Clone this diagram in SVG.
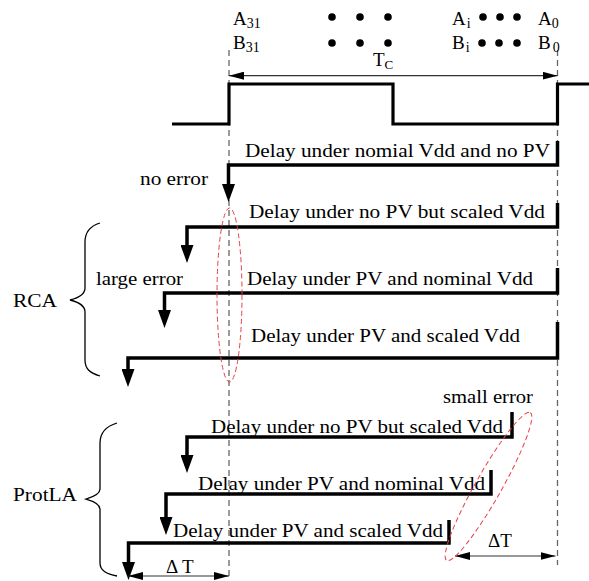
<svg xmlns="http://www.w3.org/2000/svg" width="589" height="581" viewBox="0 0 589 581">
<style>
.dash{stroke:#666;stroke-width:1.3;stroke-dasharray:6 4;fill:none}
.wave{stroke:#000;stroke-width:3.2;fill:none}
.delay{stroke:#000;stroke-width:3.5;fill:none;marker-end:url(#ah)}
.dim{stroke:#333;stroke-width:1.2;fill:none;marker-start:url(#sa);marker-end:url(#sa)}
.red{stroke:#e8404a;stroke-width:1;stroke-dasharray:5 3;fill:none}
.brace{stroke:#000;stroke-width:1.3;fill:none}
text{font-family:"Liberation Serif","Times New Roman",serif;font-size:19px;fill:#000}
.sub{font-size:14px}
</style>
<defs>
<marker id="ah" markerUnits="userSpaceOnUse" markerWidth="18" markerHeight="13" viewBox="0 0 18 13" refX="10" refY="6.5" orient="auto"><path d="M0,0 L18,6.5 L0,13 Z" fill="#000"/></marker>
<marker id="sa" markerUnits="userSpaceOnUse" markerWidth="15" markerHeight="8" viewBox="0 0 15 8" refX="15" refY="4" orient="auto-start-reverse"><path d="M0,0 L15,4 L0,8 Z" fill="#000"/></marker>
</defs>
<g id="guides">
<path class="dash" d="M229,50 V578"/>
<path class="dash" d="M557.5,50 V565"/>
</g>
<g id="header">
<text x="233" y="25">A<tspan class="sub" dy="2.5">31</tspan></text>
<text x="233" y="49">B<tspan class="sub" dy="2.5">31</tspan></text>
<text x="452" y="25">A<tspan class="sub" dx="1" dy="2.5">i</tspan></text>
<text x="452" y="49">B<tspan class="sub" dx="1" dy="2.5">i</tspan></text>
<text x="538" y="25">A<tspan class="sub" dy="2.5">0</tspan></text>
<text x="538" y="49">B<tspan class="sub" dx="2" dy="2.5">0</tspan></text>
<g fill="#000">
<circle cx="332" cy="17" r="3.8"/><circle cx="360" cy="17" r="3.8"/><circle cx="388" cy="17" r="3.8"/>
<circle cx="483" cy="17" r="3.8"/><circle cx="500" cy="17" r="3.8"/><circle cx="517" cy="17" r="3.8"/>
<circle cx="332" cy="43" r="3.8"/><circle cx="360" cy="43" r="3.8"/><circle cx="388" cy="43" r="3.8"/>
<circle cx="482" cy="43" r="3.8"/><circle cx="499" cy="43" r="3.8"/><circle cx="517" cy="43" r="3.8"/>
</g>
<text x="373" y="66">T<tspan font-size="13" dy="2.5">C</tspan></text>
</g>
<g id="clock">
<path class="wave" d="M172,124 H229 V84 H393 V124 H557.5 V84 H589"/>
</g>
<g id="connectors">
<path class="dim" d="M229,75.7 H557.5"/>
<path class="delay" d="M557.5,141 V165 H228.5 V194"/>
<path class="delay" d="M557.5,203 V227 H187 V255"/>
<path class="delay" d="M557.5,268 V293 H164.5 V320"/>
<path class="delay" d="M557.5,322 V358 H128 V379"/>
<path class="delay" d="M512,412 V437 H187 V465"/>
<path class="delay" d="M491,470 V494 H166 V527"/>
<path class="delay" d="M449,520 V543 H128.5 V572"/>
<path class="dim" d="M128,576 H229"/>
<path class="dim" d="M455,556 H555.5"/>
</g>
<g id="labels">
<text x="245" y="157" textLength="305" lengthAdjust="spacingAndGlyphs">Delay under nomial Vdd and no PV</text>
<text x="249" y="218" textLength="296" lengthAdjust="spacingAndGlyphs">Delay under no PV but scaled Vdd</text>
<text x="247" y="284.5" textLength="286" lengthAdjust="spacingAndGlyphs">Delay under PV and nominal Vdd</text>
<text x="251" y="342" textLength="269" lengthAdjust="spacingAndGlyphs">Delay under PV and scaled Vdd</text>
<text x="211" y="433" textLength="292" lengthAdjust="spacingAndGlyphs">Delay under no PV but scaled Vdd</text>
<text x="198" y="490" textLength="287" lengthAdjust="spacingAndGlyphs">Delay under PV and nominal Vdd</text>
<text x="173" y="537" textLength="270" lengthAdjust="spacingAndGlyphs">Delay under PV and scaled Vdd</text>
<text x="140" y="185" textLength="68" lengthAdjust="spacingAndGlyphs">no error</text>
<text x="96" y="285" textLength="87" lengthAdjust="spacingAndGlyphs">large error</text>
<text x="443" y="403" textLength="90" lengthAdjust="spacingAndGlyphs">small error</text>
<text x="166" y="573">Δ T</text>
<text x="488" y="547">ΔT</text>
</g>
<g id="rca">
<path class="brace" d="M100,223 C90,226 85,232 85,242 V288 C85,294 78,298 70,300 C78,302 85,306 85,312 V360 C85,369 90,373 100,376"/>
<text x="13" y="307" textLength="44" lengthAdjust="spacingAndGlyphs">RCA</text>
</g>
<g id="protla">
<path class="brace" d="M117,423 C107,426 100,432 100,443 V489 C100,494 93,497 86,499 C93,501 100,504 100,509 V563 C100,571 107,574 117,576"/>
<text x="13" y="501" textLength="64" lengthAdjust="spacingAndGlyphs">ProtLA</text>
</g>
<g id="error-regions">
<ellipse class="red" cx="229.5" cy="295" rx="12.5" ry="87"/>
<ellipse class="red" cx="488.5" cy="486.5" rx="85" ry="13" transform="rotate(-60.5 488.5 486.5)"/>
</g>
</svg>
